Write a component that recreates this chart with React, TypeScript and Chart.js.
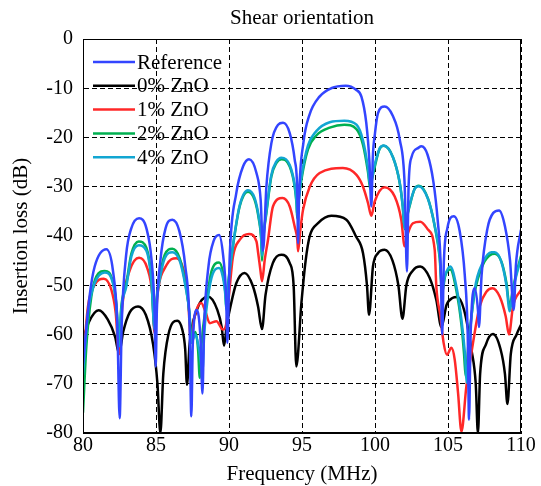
import React, { useEffect, useRef } from "react";
import { Chart, registerables } from "chart.js";

Chart.register(...registerables);

const TITLE = "Shear orientation";
const X_TITLE = "Frequency (MHz)";
const Y_TITLE = "Insertion loss (dB)";
const SERIES_NAMES = ["Reference", "0% ZnO", "1% ZnO", "2% ZnO", "4% ZnO"];
const SERIES_COLORS = ["#3345ff", "#000000", "#ff2828", "#00b050", "#12a6d2"];

const refFreq = [80.0, 80.46, 80.8, 81.6, 82.05, 82.35, 82.51, 82.65, 82.95, 83.3, 83.84, 84.35, 84.7, 84.9, 84.98, 85.06, 85.3, 85.65, 86.12, 86.6, 87.0, 87.3, 87.42, 87.52, 87.8, 88.05, 88.18, 88.3, 88.6, 88.95, 89.32, 89.6, 89.8, 89.89, 90.05, 90.5, 90.96, 91.37, 91.88, 92.17, 92.33, 92.56, 92.9, 93.36, 93.7, 94.16, 94.5, 94.68, 94.73, 94.8, 95.1, 95.5, 96.2, 97.0, 98.0, 98.7, 99.07, 99.4, 99.62, 99.75, 99.85, 100.0, 100.2, 100.66, 101.2, 101.7, 102.03, 102.19, 102.3, 102.5, 102.97, 103.18, 103.6, 104.0, 104.3, 104.5, 104.6, 104.72, 104.95, 105.4, 105.8, 106.15, 106.35, 106.44, 106.55, 106.83, 107.05, 107.12, 107.3, 107.7, 108.1, 108.5, 108.9, 109.25, 109.5, 109.65, 110.0];
const refDb = [-66, -52, -46.2, -42.7, -47, -58, -77, -58, -44, -38.5, -36.4, -38.5, -45, -55, -66.5, -55, -45, -38.5, -36.7, -39, -46, -58, -76.6, -62, -55, -61, -72, -58, -46, -41, -39.8, -44, -52, -61.7, -44, -31.3, -25.9, -24.4, -27.2, -32.7, -43, -30, -21.2, -17.4, -17, -19.1, -24.5, -31.3, -41.5, -32, -21, -15.5, -11.7, -10, -9.5, -10.3, -11.7, -17, -25, -34, -24, -19.1, -15.1, -13.7, -15.5, -20.5, -29.5, -47.2, -30, -24, -22.1, -21.8, -23.5, -29, -37, -46, -60, -45, -38.5, -36, -39, -48, -60, -77.3, -60, -50.6, -55, -58.5, -48, -38.5, -35.3, -34.8, -38, -45, -55, -46, -38.7];

const zno0Freq = [80.0, 80.4, 81.07, 81.7, 82.2, 82.47, 82.75, 83.2, 83.77, 84.3, 84.8, 85.1, 85.3, 85.5, 85.85, 86.46, 86.8, 87.0, 87.12, 87.3, 87.8, 88.56, 89.2, 89.5, 89.66, 89.85, 90.05, 90.5, 91.07, 91.64, 91.99, 92.26, 92.5, 93.0, 93.59, 94.16, 94.43, 94.61, 94.96, 95.25, 95.53, 96.1, 97.01, 98.04, 98.7, 99.18, 99.45, 99.59, 99.86, 100.2, 100.66, 101.2, 101.6, 101.88, 102.15, 102.6, 103.1, 103.74, 104.2, 104.55, 104.9, 105.3, 105.62, 106.1, 106.6, 106.9, 107.05, 107.2, 107.6, 108.08, 108.6, 108.9, 109.07, 109.3, 109.7, 110.0];
const zno0Db = [-61, -57.5, -55.1, -57, -60.5, -63.9, -59.5, -55.5, -54.3, -56, -62, -70, -80, -68, -60, -57.2, -59, -63, -70.2, -62, -55, -52.3, -55, -58.5, -62.3, -58, -55, -49.6, -47.5, -50.2, -54.3, -58.9, -52, -45.5, -43.8, -45.5, -50.2, -66.5, -53.6, -45, -40, -37.4, -35.9, -36.7, -40.1, -43.5, -50, -56, -46.2, -43.5, -42.8, -45, -50, -56.8, -50, -47, -46.2, -48.5, -53, -58.5, -54, -52.6, -52.4, -55, -63, -70, -80, -68, -62, -59.9, -63, -68, -74.1, -64, -60, -58];

const zno1Freq = [80.0, 80.34, 80.8, 81.42, 81.94, 82.24, 82.47, 82.7, 83.2, 83.84, 84.4, 84.75, 84.9, 85.1, 85.7, 86.4, 86.9, 87.2, 87.4, 87.6, 88.1, 88.4, 88.68, 89.14, 89.59, 89.8, 90.0, 90.27, 90.73, 91.37, 91.88, 92.0, 92.15, 92.26, 92.45, 92.67, 93.01, 93.66, 94.16, 94.5, 94.68, 94.73, 94.89, 95.07, 95.53, 96.21, 97.8, 98.73, 99.18, 99.52, 99.75, 99.98, 100.66, 101.35, 101.8, 102.03, 102.26, 102.6, 103.1, 103.63, 104.09, 104.2, 104.48, 104.7, 104.93, 105.23, 105.46, 105.69, 105.92, 106.26, 106.6, 107.17, 107.63, 108.04, 108.54, 108.95, 109.18, 109.45, 110.0];
const zno1Db = [-65.8, -54.3, -49.9, -48.7, -50.9, -55.6, -64, -54, -47, -44.4, -46.5, -52, -59.7, -52, -46, -44.5, -47, -53, -61.7, -57, -53.6, -55.5, -57.7, -57.3, -59, -58, -52, -44.2, -40.8, -39.6, -41.1, -43.5, -46.9, -49.2, -44.8, -40.8, -34, -32.3, -34, -38.1, -40.8, -43.1, -38.7, -34.7, -30, -27.2, -26.2, -27.6, -30, -33.3, -35.9, -33, -30.1, -32, -36.7, -42.1, -39.4, -37.4, -37.1, -38.7, -42.8, -50.2, -56.3, -61.7, -64.1, -62.7, -65.1, -71.9, -79.7, -70.5, -63.8, -54.3, -51.3, -50.6, -52.3, -56.3, -60, -54.3, -50.9];

const zno2Freq = [80.0, 80.23, 80.57, 80.92, 81.49, 82.05, 82.29, 82.47, 82.62, 82.97, 83.31, 83.82, 84.34, 84.68, 84.9, 85.05, 85.25, 85.6, 86.12, 86.62, 87.03, 87.3, 87.42, 87.7, 87.88, 88.0, 88.12, 88.45, 88.8, 89.32, 89.59, 89.75, 89.82, 89.95, 90.27, 90.73, 91.3, 91.76, 92.05, 92.2, 92.26, 92.35, 92.56, 92.9, 93.24, 93.59, 94.16, 94.5, 94.62, 94.68, 94.78, 94.96, 95.41, 95.98, 96.9, 97.9, 98.73, 99.18, 99.52, 99.68, 99.8, 99.98, 100.32, 100.6, 101.23, 101.69, 101.9, 102.03, 102.15, 102.38, 102.72, 103.0, 103.63, 104.09, 104.43, 104.6, 104.8, 105.16, 105.57, 105.92, 106.1, 106.21, 106.4, 106.83, 107.4, 108.0, 108.2, 108.66, 109.0, 109.23, 109.4, 109.57, 110.0];
const zno2Db = [-75.9, -62.4, -52.3, -48.2, -47.1, -49.3, -54, -62, -54.5, -49.6, -43.6, -41.1, -42.4, -48.4, -58.8, -52.5, -48.3, -43.8, -42.6, -44.5, -50, -56, -61.5, -59.5, -63, -68.8, -62, -53.6, -47.2, -45.4, -47.5, -51.5, -54.6, -49.5, -42.1, -34, -31, -32.7, -36.7, -40.5, -45, -40.5, -35.4, -27.9, -25.2, -24.4, -25.9, -30, -33.3, -36.5, -32.8, -28.6, -22.4, -19.6, -18, -17.4, -18.3, -21.5, -27, -30.5, -28.5, -26, -22.3, -21.7, -24, -29.2, -34, -38.6, -36.8, -33.8, -30.4, -29.8, -32.4, -38, -44.5, -51.5, -48.2, -46.8, -51, -58, -64, -68.5, -62, -51.5, -45.8, -43.7, -43.6, -45.2, -49.5, -54.5, -51.5, -49, -44];

const zno4Freq = [80.0, 80.34, 80.8, 81.49, 82.05, 82.29, 82.47, 82.62, 82.97, 83.31, 83.82, 84.34, 84.68, 84.9, 85.05, 85.25, 85.6, 86.12, 86.62, 87.03, 87.3, 87.42, 87.7, 87.95, 88.18, 88.3, 88.45, 88.8, 89.32, 89.59, 89.75, 89.82, 89.95, 90.27, 90.73, 91.3, 91.76, 92.05, 92.2, 92.26, 92.35, 92.56, 92.9, 93.24, 93.59, 94.16, 94.5, 94.62, 94.68, 94.78, 94.96, 95.41, 95.98, 96.9, 97.9, 98.73, 99.18, 99.52, 99.68, 99.8, 99.98, 100.32, 100.6, 101.23, 101.69, 101.9, 102.03, 102.15, 102.38, 102.72, 103.0, 103.63, 104.09, 104.43, 104.6, 104.8, 105.16, 105.57, 105.92, 106.15, 106.3, 106.45, 106.83, 107.4, 107.97, 108.2, 108.66, 109.0, 109.23, 109.4, 109.57, 110.0];
const zno4Db = [-68.2, -55.6, -49.6, -47.4, -49.6, -54.3, -62.4, -55, -50.2, -44.2, -41.9, -43, -48.9, -59, -53, -48.9, -44.5, -43.3, -45, -50.4, -56, -61.7, -60, -63, -67.5, -60, -55, -48.5, -46.5, -48.5, -52, -55, -50, -42, -33.8, -30.7, -32.3, -36.3, -40, -44, -40, -35, -27.6, -24.9, -24.1, -25.6, -29.7, -33, -36, -32.5, -28, -21.6, -18.7, -16.9, -16.6, -17.4, -20.6, -26.2, -30, -28, -25.5, -22.2, -21.6, -24, -29.1, -34, -38.4, -36.5, -33.6, -30.4, -29.9, -32.5, -37.9, -44, -50.6, -48, -46.2, -50.2, -57, -63.5, -69.8, -62, -50.9, -45.3, -43.3, -43.3, -45.3, -50, -55.3, -52, -49.4, -44.5];

const X_MIN = 80;
const X_MAX = 110;
const X_STEP = 5;
const Y_MIN = -80;
const Y_MAX = 0;
const Y_STEP = 10;

const FONT = '"Liberation Serif", "Times New Roman", serif';

function pts(fs: number[], ds: number[]) {
  return fs.map((f, i) => ({ x: f, y: ds[i] }));
}

const framePlugin = {
  id: "frameTitleLegend",
  afterDraw(chart: any) {
    const { ctx, chartArea } = chart;
    const { left, right, top, bottom } = chartArea;
    ctx.save();
    ctx.setLineDash([]);
    ctx.strokeStyle = "#000";
    ctx.lineWidth = 1;
    ctx.strokeRect(left + 0.5, top + 0.5, right - left - 1, bottom - top - 1);

    // title
    ctx.fillStyle = "#000";
    ctx.font = `21px ${FONT}`;
    ctx.textAlign = "center";
    ctx.textBaseline = "middle";
    ctx.fillText(TITLE, (left + right) / 2, 18);

    // legend
    ctx.textAlign = "left";
    ctx.font = `21px ${FONT}`;
    const x0 = left + 10;
    const x1 = left + 52;
    chart.data.datasets.forEach((ds: any, i: number) => {
      const y = top + 23 + i * 23.8;
      ctx.strokeStyle = ds.borderColor;
      ctx.lineWidth = 2.5;
      ctx.beginPath();
      ctx.moveTo(x0, y);
      ctx.lineTo(x1, y);
      ctx.stroke();
      ctx.fillStyle = "#000";
      ctx.fillText(ds.label, x1 + 2, y + 1);
    });
    ctx.restore();
  },
};

export default function App() {
  const canvasRef = useRef<HTMLCanvasElement | null>(null);

  useEffect(() => {
    if (!canvasRef.current) return;
    const series = [
      pts(refFreq, refDb),
      pts(zno0Freq, zno0Db),
      pts(zno1Freq, zno1Db),
      pts(zno2Freq, zno2Db),
      pts(zno4Freq, zno4Db),
    ];
    const orders = [0, 4, 3, 2, 1];
    const chart = new Chart(canvasRef.current, {
      type: "line",
      data: {
        datasets: series.map((d, i) => ({
          label: SERIES_NAMES[i],
          data: d,
          borderColor: SERIES_COLORS[i],
          backgroundColor: SERIES_COLORS[i],
          borderWidth: 2.5,
          pointRadius: 0,
          fill: false,
          cubicInterpolationMode: "monotone" as const,
          order: orders[i],
        })),
      },
      options: {
        animation: false,
        responsive: false,
        devicePixelRatio: 1,
        layout: { padding: { top: 39, right: 20, bottom: 0, left: 0 } },
        plugins: {
          legend: { display: false },
          title: { display: false },
          tooltip: { enabled: false },
        },
        scales: {
          x: {
            type: "linear",
            min: X_MIN,
            max: X_MAX,
            afterFit: (s: any) => {
              s.height = 53;
            },
            afterBuildTicks: (s: any) => {
              const t = [];
              for (let v = X_MIN; v <= X_MAX; v += X_STEP) t.push({ value: v });
              s.ticks = t;
            },
            ticks: {
              color: "#000",
              font: { family: FONT, size: 20 },
              padding: 1,
              maxRotation: 0,
            },
            grid: { color: "#000", lineWidth: 1, drawTicks: false },
            border: { display: true, color: "#000", width: 1, dash: [5, 3] },
            title: {
              display: true,
              text: X_TITLE,
              color: "#000",
              font: { family: FONT, size: 21, lineHeight: 1 },
              padding: { top: 0, bottom: 1 },
            },
          },
          y: {
            type: "linear",
            min: Y_MIN,
            max: Y_MAX,
            afterFit: (s: any) => {
              s.width = 83;
            },
            afterBuildTicks: (s: any) => {
              const t = [];
              for (let v = Y_MIN; v <= Y_MAX; v += Y_STEP) t.push({ value: v });
              s.ticks = t;
            },
            ticks: {
              color: "#000",
              font: { family: FONT, size: 20 },
              padding: 10,
            },
            grid: { color: "#000", lineWidth: 1, drawTicks: false },
            border: { display: true, color: "#000", width: 1, dash: [5, 3] },
            title: {
              display: true,
              text: Y_TITLE,
              color: "#000",
              font: { family: FONT, size: 21, lineHeight: 1 },
              padding: { top: 11, bottom: 0 },
            },
          },
        },
      },
      plugins: [framePlugin],
    });
    return () => chart.destroy();
  }, []);

  return (
    <div style={{ position: "fixed", left: 0, top: 0, width: 541, height: 486, background: "#fff" }}>
      <canvas ref={canvasRef} width={541} height={486} style={{ width: 541, height: 486, display: "block" }} />
    </div>
  );
}
